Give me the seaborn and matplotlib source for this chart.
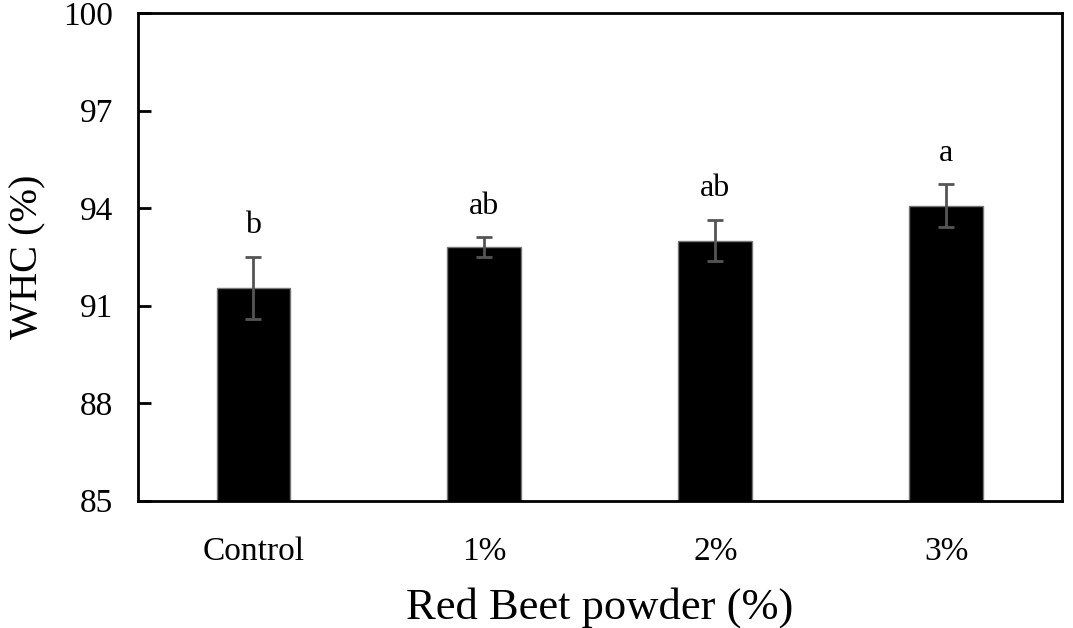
import matplotlib
matplotlib.use("Agg")
import matplotlib.pyplot as plt
import seaborn as sns
import pandas as pd

categories = ["Control", "1%", "2%", "3%"]
whc_mean = [91.55, 92.8, 93.0, 94.07]
whc_err = [0.96, 0.3, 0.63, 0.66]
letters = ["b", "ab", "ab", "a"]
yticks = [85, 88, 91, 94, 97, 100]

sns.set_theme(style="white")
plt.rcParams["font.family"] = ["Liberation Serif", "DejaVu Serif"]

df = pd.DataFrame({"group": categories, "whc": whc_mean})

fig = plt.figure(figsize=(10.73, 6.28), dpi=100)
ax = fig.add_axes([0.1286, 0.203, 0.861, 0.776])

sns.barplot(data=df, x="group", y="whc", order=categories, color="black",
            width=0.32, errorbar=None, edgecolor="#777777", linewidth=1,
            saturation=1, ax=ax)

xpos = list(range(len(categories)))
ax.errorbar(xpos, whc_mean, yerr=whc_err, fmt="none", ecolor="#555555",
            elinewidth=2, capsize=6, capthick=2, zorder=5)

for x, m, e, lab in zip(xpos, whc_mean, whc_err, letters):
    ax.annotate(lab, (x, m + e), xytext=(0, 12), textcoords="offset points",
                ha="center", va="bottom", fontsize=23, color="black")

ax.set_ylim(85, 100)
ax.set_xlim(-0.5, 3.5)
ax.set_yticks(yticks)
ax.set_yticklabels([str(t) for t in yticks], fontsize=24)
ax.tick_params(axis="y", direction="in", length=9, width=2, left=True,
               pad=18, colors="black")
ax.tick_params(axis="x", length=0, pad=26, labelsize=24, colors="black")
for lbl in ax.get_yticklabels() + ax.get_xticklabels():
    lbl.set_color("black")

for sp in ax.spines.values():
    sp.set_visible(True)
    sp.set_color("black")
    sp.set_linewidth(2)

ax.set_xlabel("Red Beet powder (%)", fontsize=32, color="black", labelpad=14)
ax.set_ylabel("WHC (%)", fontsize=29, color="black", labelpad=12)

fig.savefig("out.png", dpi=100, facecolor="white")
